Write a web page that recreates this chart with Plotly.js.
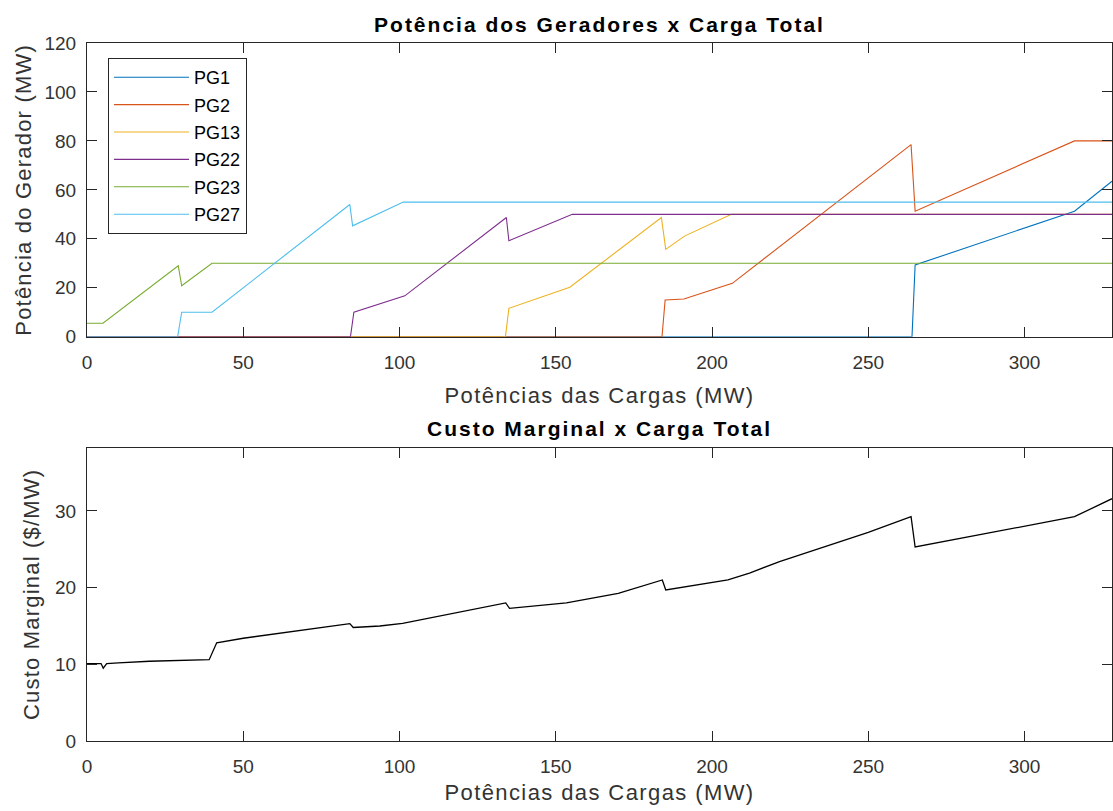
<!DOCTYPE html>
<html>
<head>
<meta charset="utf-8">
<script src="https://cdn.plot.ly/plotly-3.0.1.min.js"></script>
<style>
html,body{margin:0;padding:0;background:#fff;}
#chart .gtitle, #chart .annotation-text { letter-spacing: 2px; }
#chart .xtitle, #chart .x2title { letter-spacing: 1.4px; }
#chart .ytitle, #chart .y2title { letter-spacing: 1.2px; }
</style>
</head>
<body>
<div id="chart" style="width:1113px;height:811px;"></div>
<script>
// ---- Data ----
const seriesNames = ["PG1", "PG2", "PG13", "PG22", "PG23", "PG27"];
const seriesColors = ["#0072BD", "#D95319", "#EDB120", "#7E2F8E", "#77AC30", "#4DBEEE"];

const xPG1 = [0, 264, 265, 316, 328];
const yPG1 = [0, 0, 29.3, 51.3, 63.5];

const xPG2 = [0, 184, 185, 191, 206.5, 263.7, 265, 316, 328];
const yPG2 = [0, 0, 15, 15.4, 21.8, 78.5, 51.3, 80, 80];

const xPG13 = [0, 133.9, 135, 154.5, 183.8, 185.2, 191.2, 206.2, 328];
const yPG13 = [0, 0, 11.6, 20.2, 48.7, 35.7, 41.1, 50, 50];

const xPG22 = [0, 84.3, 85.4, 101.7, 134.2, 135, 155.3, 328];
const yPG22 = [0, 0, 10, 16.7, 48.7, 39.2, 50, 50];

const xPG23 = [0, 5.1, 29.2, 30.3, 40, 328];
const yPG23 = [5.5, 5.5, 29, 20.8, 30, 30];

const xPG27 = [0, 29, 30.3, 40, 84.1, 85, 101.2, 328];
const yPG27 = [0, 0, 10, 10, 54, 45.3, 55, 55];

const xCusto = [0, 4.5, 5.2, 6.3, 10, 20, 39.1, 41.5, 50, 84.1, 85.2, 93.7, 101, 134, 135.2, 153.4, 170, 184.1, 185.2, 205.1, 212, 221.6, 250, 263.7, 265, 316, 328];
const yCusto = [10.1, 10.1, 9.5, 10.1, 10.2, 10.4, 10.6, 12.8, 13.4, 15.3, 14.8, 15.0, 15.35, 18.0, 17.3, 18.0, 19.25, 21.0, 19.7, 21.0, 21.9, 23.4, 27.2, 29.25, 25.3, 29.25, 31.6];

const xTicks = [0, 50, 100, 150, 200, 250, 300];
const yTicksTop = [0, 20, 40, 60, 80, 100, 120];
const yTicksBottom = [0, 10, 20, 30];

// ---- Build traces ----
const xs = [xPG1, xPG2, xPG13, xPG22, xPG23, xPG27];
const ys = [yPG1, yPG2, yPG13, yPG22, yPG23, yPG27];
const traces = seriesNames.map((n, i) => ({
  type: "scatter", mode: "lines", name: n,
  x: xs[i], y: ys[i], xaxis: "x", yaxis: "y",
  legendgroup: n,
  line: {color: seriesColors[i], width: 1.1},
  hoverinfo: "x+y+name"
}));
traces.push({
  type: "scatter", mode: "lines", name: "Custo Marginal",
  x: xCusto, y: yCusto, xaxis: "x2", yaxis: "y2",
  showlegend: false,
  line: {color: "#000000", width: 1.3}
});

const FONT = "Arial, 'Liberation Sans', Helvetica, sans-serif";
const axisCommon = {
  showline: true, linecolor: "#262626", linewidth: 1,
  mirror: "ticks", ticks: "inside", ticklen: 10, tickwidth: 1, tickcolor: "#262626",
  showgrid: false, zeroline: false,
  tickfont: {family: FONT, size: 19, color: "#333333"}
};

const layout = {
  width: 1113, height: 811,
  paper_bgcolor: "#ffffff", plot_bgcolor: "#ffffff",
  margin: {l: 87, r: 1, t: 43, b: 70},
  showlegend: true,
  font: {family: FONT},
  title: {
    text: "<b>Potência dos Geradores x Carga Total</b>",
    font: {family: FONT, size: 21, color: "#000000"},
    x: 0.5, xref: "paper", xanchor: "center",
    y: 1 - 25 / 811, yref: "container", yanchor: "middle"
  },
  xaxis: Object.assign({}, axisCommon, {
    domain: [0, 1], anchor: "y", range: [0, 328],
    tickvals: xTicks, ticklabelstandoff: 8,
    title: {text: "Potências das Cargas (MW)", font: {family: FONT, size: 22, color: "#333333"}, standoff: 16}
  }),
  yaxis: Object.assign({}, axisCommon, {
    domain: [0.5792, 1], anchor: "x", range: [0, 120],
    tickvals: yTicksTop, ticklabelstandoff: 6,
    title: {text: "Potência do Gerador (MW)", font: {family: FONT, size: 22, color: "#333333"}, standoff: 6}
  }),
  xaxis2: Object.assign({}, axisCommon, {
    domain: [0, 1], anchor: "y2", range: [0, 328],
    tickvals: xTicks, ticklabelstandoff: 8,
    title: {text: "Potências das Cargas (MW)", font: {family: FONT, size: 22, color: "#333333"}, standoff: 8}
  }),
  yaxis2: Object.assign({}, axisCommon, {
    domain: [0, 0.4202], anchor: "x2", range: [0, 38.25],
    tickvals: yTicksBottom, ticklabelstandoff: 6,
    title: {text: "Custo Marginal ($/MW)", font: {family: FONT, size: 22, color: "#333333"}, standoff: 9}
  }),
  legend: {
    x: 0.0205, y: 0.9785, xanchor: "left", yanchor: "top",
    xref: "paper", yref: "paper",
    bgcolor: "#ffffff", bordercolor: "#262626", borderwidth: 1,
    font: {family: FONT, size: 18, color: "#000000"},
    tracegroupgap: 1, itemwidth: 75
  },
  annotations: [{
    text: "<b>Custo Marginal x Carga Total</b>",
    xref: "paper", yref: "paper", x: 0.5, y: 0.447,
    xanchor: "center", yanchor: "middle", showarrow: false,
    font: {family: FONT, size: 21, color: "#000000"}
  }]
};

Plotly.newPlot("chart", traces, layout, {displayModeBar: false, responsive: false});
</script>
</body>
</html>
